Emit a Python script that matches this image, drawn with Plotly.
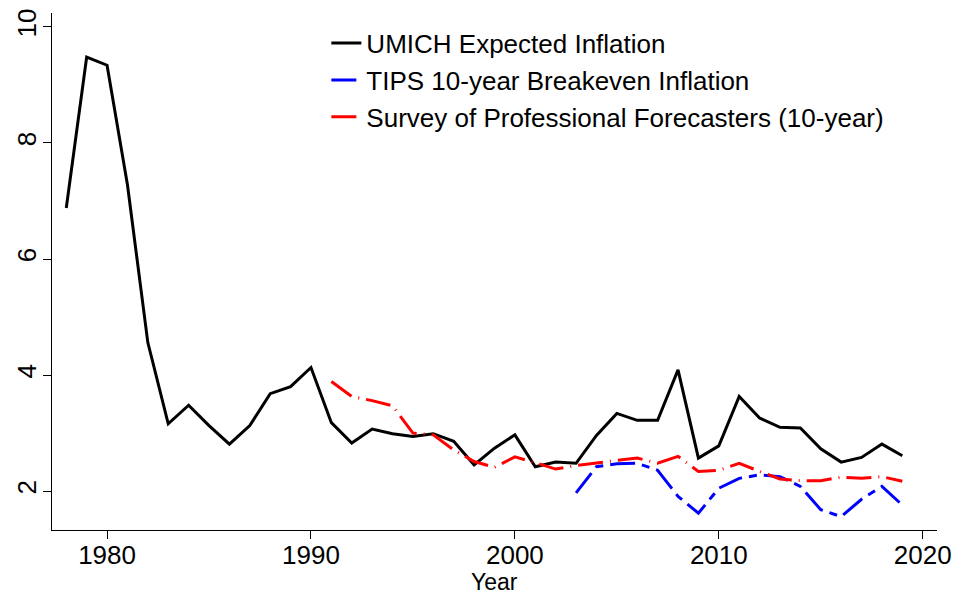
import plotly.graph_objects as go

years_umich = list(range(1978, 2020))
umich = [6.88, 9.48, 9.34, 7.28, 4.56, 3.16, 3.48, 3.13, 2.81, 3.13,
         3.68, 3.80, 4.13, 3.18, 2.83, 3.07, 2.99, 2.94, 2.99, 2.86,
         2.45, 2.74, 2.97, 2.42, 2.50, 2.48, 2.96, 3.34, 3.22, 3.22,
         4.09, 2.57, 2.78, 3.63, 3.26, 3.10, 3.09, 2.73, 2.50, 2.58,
         2.81, 2.61]

years_tips = list(range(2003, 2020))
tips = [1.97, 2.42, 2.47, 2.48, 2.36, 1.91, 1.62, 2.05, 2.22, 2.28,
        2.25, 2.08, 1.68, 1.56, 1.86, 2.08, 1.76]

years_spf = list(range(1991, 2020))
spf = [3.89, 3.63, 3.56, 3.47, 3.00, 2.97, 2.71, 2.51, 2.41, 2.59,
       2.49, 2.38, 2.44, 2.49, 2.53, 2.57, 2.48, 2.60, 2.34, 2.36,
       2.48, 2.34, 2.21, 2.18, 2.18, 2.24, 2.22, 2.25, 2.17]

x_ticks = [1980, 1990, 2000, 2010, 2020]
y_ticks = [2, 4, 6, 8, 10]
x_title = "Year"

FONT = "Liberation Sans, Arial, Helvetica, sans-serif"

fig = go.Figure()
fig.add_trace(go.Scatter(x=years_umich, y=umich, mode="lines",
                         name="UMICH Expected Inflation", legendgroup="a",
                         line=dict(color="black", width=3)))
fig.add_trace(go.Scatter(x=years_tips, y=tips, mode="lines",
                         name="TIPS 10-year Breakeven Inflation", legendgroup="b",
                         line=dict(color="#0000FF", width=3, dash="25px,7px,8px,7px")))
fig.add_trace(go.Scatter(x=years_spf, y=spf, mode="lines",
                         name="Survey of Professional Forecasters (10-year)", legendgroup="c",
                         line=dict(color="#FF0000", width=3, dash="25px,7px,1px,7px")))

fig.update_layout(
    width=955, height=593,
    margin=dict(l=52, r=18, t=13, b=63),
    paper_bgcolor="white", plot_bgcolor="white",
    font=dict(family=FONT, color="black", size=26),
    showlegend=True,
    legend=dict(x=0.31, y=0.987, xanchor="left", yanchor="top",
                bgcolor="rgba(0,0,0,0)", font=dict(size=26),
                traceorder="grouped", tracegroupgap=0),
    xaxis=dict(range=[1977.3, 2020.7], tickvals=x_ticks, showgrid=False, zeroline=False,
               showline=True, linecolor="black", linewidth=1.3, automargin=False,
               ticks="outside", ticklen=8, tickcolor="black", tickwidth=1.3,
               ticklabelstandoff=-6, tickfont=dict(size=26)),
    yaxis=dict(range=[1.33, 10.24], tickvals=y_ticks, showgrid=False, zeroline=False,
               showline=True, linecolor="black", linewidth=1.3, automargin=False,
               ticks="outside", ticklen=8, tickcolor="black", tickwidth=1.3,
               ticklabelstandoff=-4,
               tickangle=-90, tickfont=dict(size=26)),
    annotations=[dict(text=x_title, xref="paper", yref="paper", x=0.5, y=-0.072,
                      xanchor="center", yanchor="top", showarrow=False,
                      font=dict(size=23, family=FONT, color="black"))],
)

# remove the default page margin and scrollbars so the figure fills the window exactly
fig.write_html("out.html", config={"displayModeBar": False},
               post_script="document.body.style.margin='0';document.body.style.overflow='hidden';")
